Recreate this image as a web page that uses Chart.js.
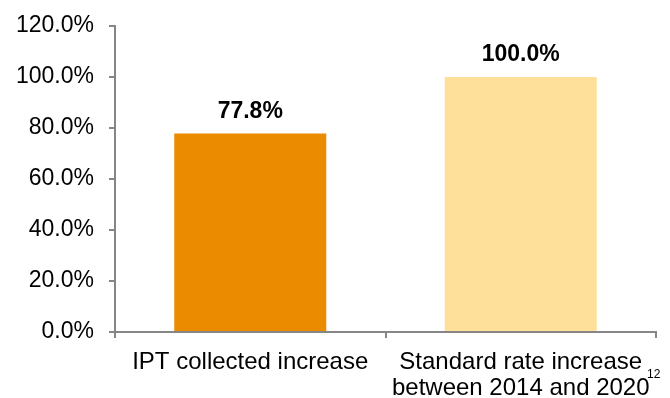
<!DOCTYPE html>
<html>
<head>
<meta charset="utf-8">
<script src="https://cdn.jsdelivr.net/npm/chart.js@4/dist/chart.umd.min.js"></script>
<style>
  html, body { margin: 0; padding: 0; background: #fff; }
  #wrap { width: 670px; height: 398px; }
</style>
</head>
<body>
<div id="wrap"><canvas id="ratesChart" width="670" height="398"></canvas></div>
<script>
// data
const categories = [
    ['IPT collected increase'],
    ['Standard rate increase', 'between 2014 and 2020']
];
const increaseValues = [77.8, 100.0];
const barColours = ['#EB8C00', '#FEE09A'];
const yTicks = [0, 20, 40, 60, 80, 100, 120];
const footnote = '12';

const axisGrey = '#868686';
const fontFamily = 'Arial, "Liberation Sans", sans-serif';

// value labels above each bar plus the footnote mark
const barLabels = {
    id: 'barLabels',
    afterDatasetsDraw(chart) {
        const ctx = chart.ctx;
        const meta = chart.getDatasetMeta(0);
        ctx.save();
        ctx.fillStyle = '#000';
        ctx.font = 'bold 23px ' + fontFamily;
        ctx.textAlign = 'center';
        ctx.textBaseline = 'alphabetic';
        meta.data.forEach((bar, i) => {
            ctx.fillText(increaseValues[i].toFixed(1) + '%', bar.x, bar.y - 16);
        });
        ctx.font = '12px ' + fontFamily;
        ctx.textAlign = 'left';
        ctx.fillText(footnote, 647, 378);
        ctx.restore();
    }
};

document.addEventListener('DOMContentLoaded', function () {
    const ctx = document.getElementById('ratesChart').getContext('2d');
    new Chart(ctx, {
        type: 'bar',
        data: {
            labels: categories,
            datasets: [{
                data: increaseValues,
                backgroundColor: barColours,
                borderWidth: 0,
                categoryPercentage: 1,
                barPercentage: 0.562
            }]
        },
        options: {
            responsive: false,
            animation: false,
            layout: { padding: { top: 26, right: 14, left: 0, bottom: 0 } },
            scales: {
                y: {
                    min: 0,
                    max: 120,
                    afterBuildTicks: function (scale) {
                        scale.ticks = yTicks.map(v => ({ value: v }));
                    },
                    afterFit: function (scale) {
                        scale.width = 115;
                        scale.paddingTop = 0;
                        scale.paddingBottom = 0;
                    },
                    border: { display: true, color: axisGrey, width: 2 },
                    grid: {
                        drawOnChartArea: false,
                        drawTicks: true,
                        tickLength: 6,
                        color: axisGrey,
                        lineWidth: 2
                    },
                    ticks: {
                        padding: 15,
                        color: '#000',
                        font: { family: fontFamily, size: 23 },
                        callback: v => v.toFixed(1) + '%'
                    }
                },
                x: {
                    afterFit: function (scale) { scale.height = 66; },
                    border: { display: true, color: axisGrey, width: 2 },
                    grid: {
                        offset: true,
                        drawOnChartArea: false,
                        drawTicks: true,
                        tickLength: 6,
                        color: axisGrey,
                        lineWidth: 2
                    },
                    ticks: {
                        padding: 11,
                        color: '#000',
                        maxRotation: 0,
                        font: { family: fontFamily, size: 24, lineHeight: 1.08 }
                    }
                }
            },
            plugins: {
                legend: { display: false },
                tooltip: { enabled: false }
            }
        },
        plugins: [barLabels]
    });
});
</script>
</body>
</html>
